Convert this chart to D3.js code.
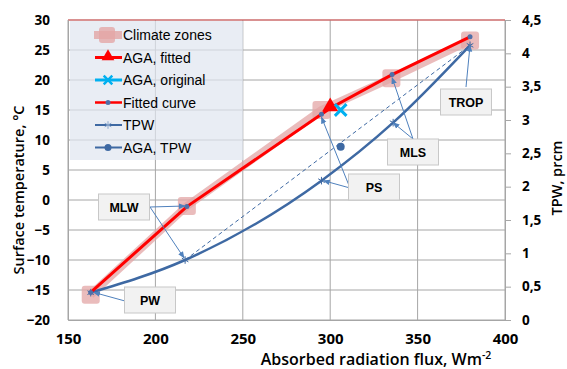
<!DOCTYPE html>
<html>
<head>
<meta charset="utf-8">
<script src="https://cdn.jsdelivr.net/npm/d3@7"></script>
<style>
  body { margin: 0; background: #fff; }
  svg { display: block; }
</style>
</head>
<body>
<script>
// --- data ---
const zoneNames = ['PW', 'MLW', 'PS', 'MLS', 'TROP'];
const zoneFlux = [163, 218, 295, 335, 380];
const zoneTemp = [-15.8, -1, 15, 20.3, 26.6];

const fitFlux = [163, 218, 295, 300, 335.4, 380];
const fitTemp = [-15.4, -1.1, 14.3, 15.3, 20.9, 27.2];

const agaFitted = [300, 15.4];
const agaOriginal = [306, 15];
const agaTpw = [306, 2.6];

const tpwFlux = [163, 217, 295, 336, 380];
const tpwValue = [0.41, 0.9, 2.09, 2.96, 4.12];

const trendFlux = [217, 380];
const trendValue = [0.9, 4.12];

const xTicks = [150, 200, 250, 300, 350, 400];
const yTicks = [-20, -15, -10, -5, 0, 5, 10, 15, 20, 25, 30];
const y2Ticks = [0, 0.5, 1, 1.5, 2, 2.5, 3, 3.5, 4, 4.5];

const legendLabels = ['Climate zones', 'AGA, fitted', 'AGA, original', 'Fitted curve', 'TPW', 'AGA, TPW'];

const calloutText = ['TROP', 'MLS', 'PS', 'MLW', 'PW'];

const width = 567, height = 369;
const margin = {top: 20, right: 62, bottom: 49, left: 68};

const svg = d3.select('body').append('svg')
  .attr('width', width).attr('height', height);

const x = d3.scaleLinear().domain([150, 400]).range([margin.left, width - margin.right]);
const y = d3.scaleLinear().domain([-20, 30]).range([height - margin.bottom, margin.top]);
const y2 = d3.scaleLinear().domain([0, 4.5]).range([height - margin.bottom, margin.top]);

const blue = '#3e69a3';
const red = '#ff0000';
const pink = '#e3a6a6';
const gridCol = '#a6a6a6';
const font = 'Open Sans, Liberation Sans, sans-serif';

const defs = svg.append('defs');
defs.append('marker').attr('id', 'arr')
  .attr('viewBox', '0 0 10 10').attr('refX', 9).attr('refY', 5)
  .attr('markerWidth', 7).attr('markerHeight', 7).attr('orient', 'auto')
  .append('path').attr('d', 'M0,1 L10,5 L0,9 Z').attr('fill', '#4f81bd');

// grid
svg.append('g').selectAll('line').data(xTicks).join('line')
  .attr('x1', d => x(d)).attr('x2', d => x(d))
  .attr('y1', y(-20)).attr('y2', y(30))
  .attr('stroke', gridCol).attr('stroke-width', 1);
svg.append('g').selectAll('line').data(yTicks).join('line')
  .attr('x1', x(150)).attr('x2', x(400))
  .attr('y1', d => y(d)).attr('y2', d => y(d))
  .attr('stroke', gridCol).attr('stroke-width', 1);
// pinkish top edge
svg.append('line').attr('x1', x(150)).attr('x2', x(400))
  .attr('y1', y(30)).attr('y2', y(30)).attr('stroke', '#e05050').attr('stroke-width', 1.2);

// axes
const xAxis = d3.axisBottom(x).tickValues(xTicks).tickSize(0).tickPadding(13);
svg.append('g').attr('transform', `translate(0,${y(-20)})`).call(xAxis)
  .call(g => g.select('.domain').attr('stroke', gridCol))
  .selectAll('text').attr('font-family', font).attr('font-weight', 'bold')
  .attr('font-size', 15).attr('fill', '#000');

const yAxis = d3.axisLeft(y).tickValues(yTicks).tickSize(0).tickPadding(18);
svg.append('g').attr('transform', `translate(${x(150)},0)`).call(yAxis)
  .call(g => g.select('.domain').attr('stroke', gridCol))
  .selectAll('text').attr('font-family', font).attr('font-weight', 'bold')
  .attr('font-size', 13.5).attr('fill', '#000');

const y2Axis = d3.axisRight(y2).tickValues(y2Ticks).tickSize(6).tickPadding(11)
  .tickFormat(d => String(d).replace('.', ','));
svg.append('g').attr('transform', `translate(${x(400)},0)`).call(y2Axis)
  .call(g => g.select('.domain').attr('stroke', gridCol))
  .call(g => g.selectAll('.tick line').attr('stroke', gridCol))
  .selectAll('text').attr('font-family', font).attr('font-weight', 'bold')
  .attr('font-size', 13.5).attr('fill', '#000');

// axis titles
svg.append('text').attr('transform', `translate(24,190) rotate(-90)`)
  .attr('text-anchor', 'middle').attr('font-family', font).attr('font-weight', 600)
  .attr('font-size', 14.5).text('Surface temperature, °C');
svg.append('text').attr('transform', `translate(562,178) rotate(-90)`)
  .attr('text-anchor', 'middle').attr('font-family', font).attr('font-weight', 600)
  .attr('font-size', 14.5).text('TPW, prcm');
const xt = svg.append('text').attr('x', 376).attr('y', 365)
  .attr('text-anchor', 'middle').attr('font-family', font).attr('font-weight', 600)
  .attr('font-size', 16);
xt.append('tspan').text('Absorbed radiation flux, Wm');
xt.append('tspan').attr('dy', -6).attr('font-size', 10.5).text('-2');

// series
const zones = zoneFlux.map((f, i) => [f, zoneTemp[i]]);
const fit = fitFlux.map((f, i) => [f, fitTemp[i]]);
const tpw = tpwFlux.map((f, i) => [f, tpwValue[i]]);
const trend = trendFlux.map((f, i) => [f, trendValue[i]]);

const lineT = d3.line().x(d => x(d[0])).y(d => y(d[1]));
const lineW = d3.line().x(d => x(d[0])).y(d => y2(d[1]));

// climate zones
svg.append('path').datum(zones).attr('d', lineT)
  .attr('fill', 'none').attr('stroke', pink).attr('stroke-width', 8).attr('opacity', 0.75);
svg.append('g').selectAll('rect').data(zones).join('rect')
  .attr('x', d => x(d[0]) - 9).attr('y', d => y(d[1]) - 9)
  .attr('width', 18).attr('height', 18).attr('rx', 3)
  .attr('fill', pink).attr('opacity', 0.75);

// dashed trend on TPW axis
svg.append('path').datum(trend).attr('d', lineW)
  .attr('fill', 'none').attr('stroke', blue).attr('stroke-width', 1)
  .attr('stroke-dasharray', '4,3');

// TPW curve
svg.append('path').datum(tpw).attr('d', lineW.curve(d3.curveMonotoneX))
  .attr('fill', 'none').attr('stroke', blue).attr('stroke-width', 2.5);
svg.append('g').selectAll('path').data(tpw).join('path')
  .attr('transform', d => `translate(${x(d[0])},${y2(d[1])})`)
  .attr('d', d3.symbol(d3.symbolAsterisk, 40))
  .attr('fill', 'none').attr('stroke', blue).attr('stroke-width', 1);

// fitted curve
svg.append('path').datum(fit).attr('d', lineT)
  .attr('fill', 'none').attr('stroke', red).attr('stroke-width', 3);
svg.append('g').selectAll('circle').data(fit.filter((d, i) => i !== 3)).join('circle')
  .attr('cx', d => x(d[0])).attr('cy', d => y(d[1])).attr('r', 2.5)
  .attr('fill', '#4f6fa8');

// AGA points
svg.append('path')
  .attr('transform', `translate(${x(agaFitted[0])},${y(agaFitted[1]) - 1})`)
  .attr('d', d3.symbol(d3.symbolTriangle, 110)).attr('fill', red);
svg.append('path')
  .attr('transform', `translate(${x(agaOriginal[0])},${y(agaOriginal[1])})`)
  .attr('d', d3.symbol(d3.symbolTimes, 90))
  .attr('fill', 'none').attr('stroke', '#00b0f0').attr('stroke-width', 3);
svg.append('circle').attr('cx', x(agaTpw[0])).attr('cy', y2(agaTpw[1])).attr('r', 4)
  .attr('fill', blue);

// callouts: box centre in pixels and arrow targets
const callouts = [
  {cx: 466, cy: 102, from: [[466, 87]], to: [[x(380), y2(4.12)]]},
  {cx: 413, cy: 152, from: [[413, 139], [413, 139]], to: [[x(335.4), y(20.9) + 3], [x(336), y2(2.96)]]},
  {cx: 374, cy: 187, from: [[350, 188], [350, 188]], to: [[x(295), y(14.3) + 3], [x(295) + 2, y2(2.09)]]},
  {cx: 124, cy: 207, from: [[150, 207], [150, 207]], to: [[x(217), y(-1)], [x(217) - 1, y2(0.9) - 2]]},
  {cx: 150, cy: 300, from: [[125, 301]], to: [[x(163) + 3, y(-15.4)]]}
];
const cg = svg.append('g');
callouts.forEach((c, i) => {
  c.from.forEach((f, j) => {
    cg.append('line').attr('x1', f[0]).attr('y1', f[1])
      .attr('x2', c.to[j][0]).attr('y2', c.to[j][1])
      .attr('stroke', '#4f81bd').attr('stroke-width', 1)
      .attr('marker-end', 'url(#arr)');
  });
  cg.append('rect').attr('x', c.cx - 25.5).attr('y', c.cy - 13)
    .attr('width', 51).attr('height', 26)
    .attr('fill', '#f2f2f2').attr('stroke', '#c8c8c8');
  cg.append('text').attr('x', c.cx).attr('y', c.cy + 4.5)
    .attr('text-anchor', 'middle').attr('font-family', 'Liberation Sans, Arial, sans-serif')
    .attr('font-weight', 'bold').attr('font-size', 12.5).text(calloutText[i]);
});

// legend
const lg = svg.append('g');
lg.append('rect').attr('x', 70).attr('y', 21).attr('width', 173).attr('height', 139)
  .attr('fill', '#dfe5f0').attr('opacity', 0.7);
const ly = d => 35 + d * 22.5;
legendLabels.forEach((t, i) => {
  lg.append('text').attr('x', 123).attr('y', ly(i) + 5)
    .attr('font-family', 'Liberation Sans, Arial, sans-serif').attr('font-size', 14)
    .text(t);
});
// legend symbols
lg.append('line').attr('x1', 94).attr('x2', 122).attr('y1', ly(0)).attr('y2', ly(0))
  .attr('stroke', pink).attr('stroke-width', 8).attr('opacity', 0.8);
lg.append('rect').attr('x', 99).attr('y', ly(0) - 8).attr('width', 16).attr('height', 16)
  .attr('rx', 3).attr('fill', pink).attr('opacity', 0.8);
lg.append('line').attr('x1', 95).attr('x2', 122).attr('y1', ly(1)).attr('y2', ly(1))
  .attr('stroke', red).attr('stroke-width', 3);
lg.append('path').attr('transform', `translate(108,${ly(1) - 1})`)
  .attr('d', d3.symbol(d3.symbolTriangle, 70)).attr('fill', red);
lg.append('line').attr('x1', 95).attr('x2', 122).attr('y1', ly(2)).attr('y2', ly(2))
  .attr('stroke', '#00b0f0').attr('stroke-width', 3);
lg.append('path').attr('transform', `translate(108,${ly(2)})`)
  .attr('d', d3.symbol(d3.symbolTimes, 50)).attr('stroke', '#00b0f0').attr('stroke-width', 2.5);
lg.append('line').attr('x1', 95).attr('x2', 122).attr('y1', ly(3)).attr('y2', ly(3))
  .attr('stroke', red).attr('stroke-width', 2.5);
lg.append('circle').attr('cx', 108).attr('cy', ly(3)).attr('r', 2.5).attr('fill', '#4f6fa8');
lg.append('line').attr('x1', 95).attr('x2', 122).attr('y1', ly(4)).attr('y2', ly(4))
  .attr('stroke', blue).attr('stroke-width', 2);
lg.append('path').attr('transform', `translate(108,${ly(4)})`)
  .attr('d', d3.symbol(d3.symbolAsterisk, 40)).attr('fill', 'none')
  .attr('stroke', '#8aa6cc').attr('stroke-width', 1);
lg.append('line').attr('x1', 95).attr('x2', 122).attr('y1', ly(5)).attr('y2', ly(5))
  .attr('stroke', blue).attr('stroke-width', 2);
lg.append('circle').attr('cx', 108).attr('cy', ly(5)).attr('r', 3.5).attr('fill', blue);
</script>
</body>
</html>
